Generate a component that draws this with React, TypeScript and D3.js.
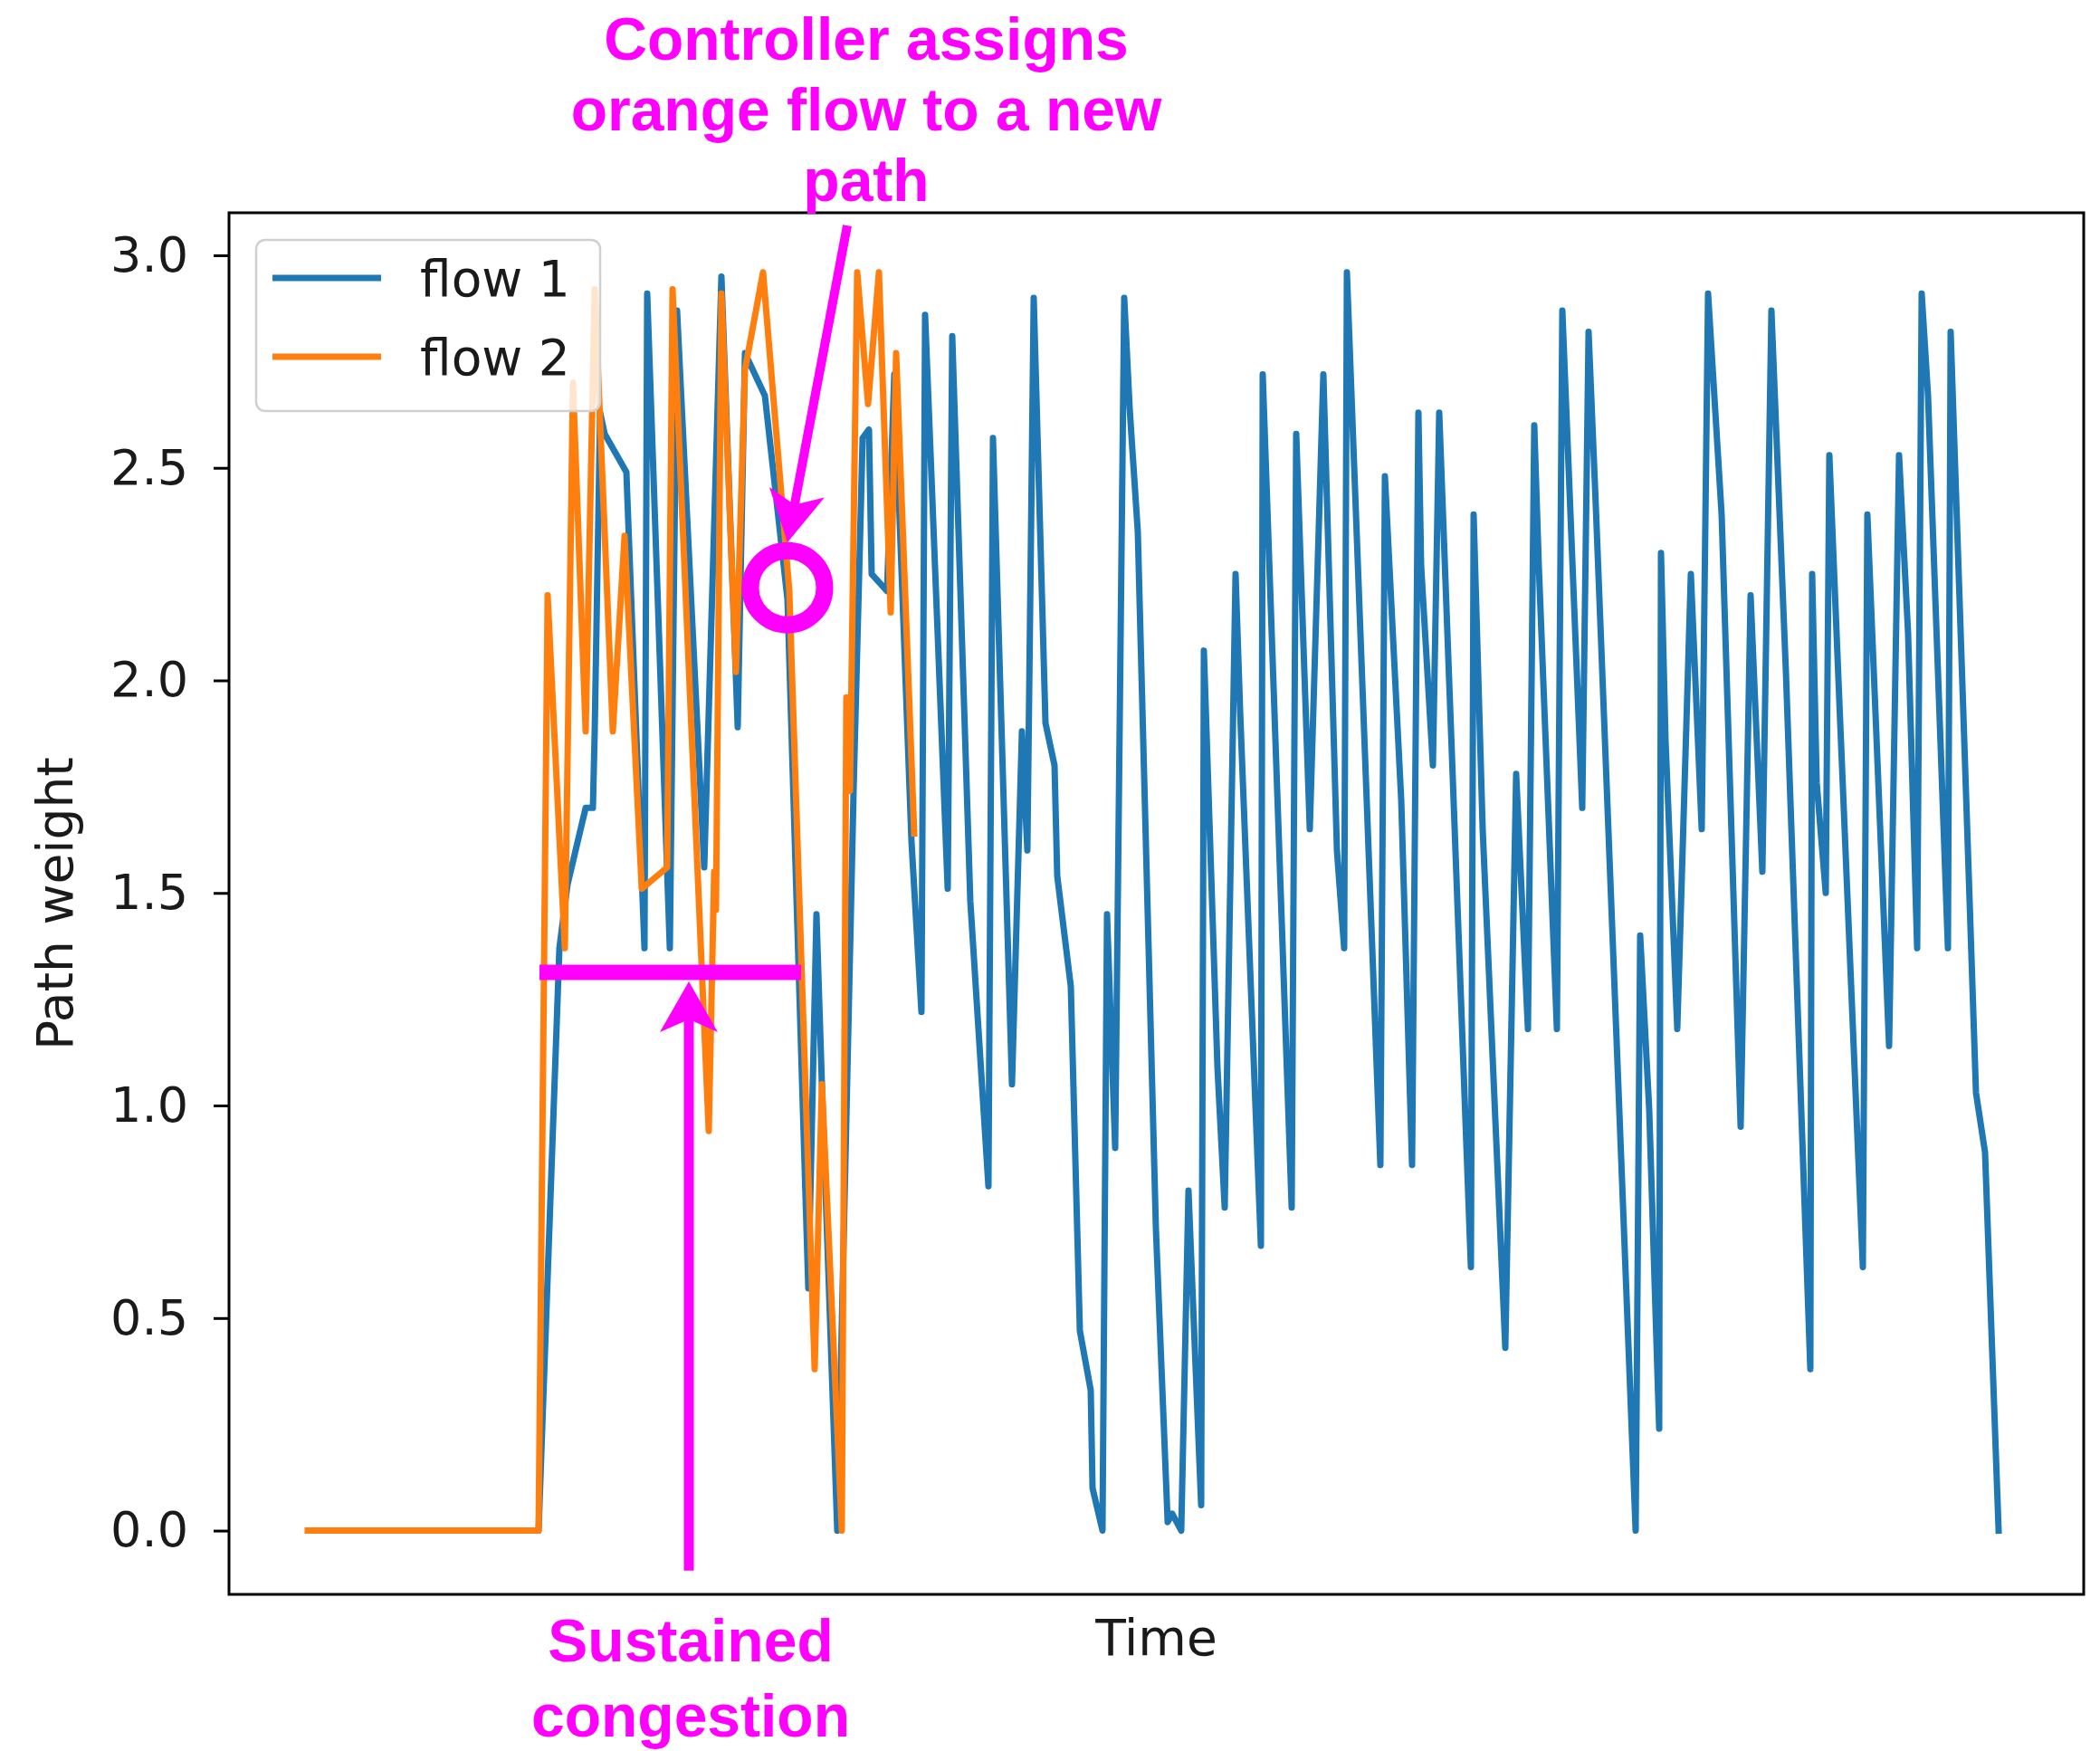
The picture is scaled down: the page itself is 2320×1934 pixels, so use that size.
import * as d3 from 'd3';
import React, { useEffect, useRef } from 'react';

// flow 1 (blue) - time and path weight
const flow1Time = [
  4.3, 25.5, 27.8, 28.7, 30.7, 31.5, 31.7, 32.3, 32.8, 35.2, 37.2, 37.5, 40.0, 40.8, 43.8, 45.7,
  47.5, 48.3, 50.5, 53.0, 55.3, 56.2, 56.8, 58.5, 60.3, 61.3, 62.0, 62.3, 64.0, 64.8, 66.7, 67.8,
  68.2, 70.7, 71.2, 73.2, 75.2, 75.7, 77.8, 78.9, 79.5, 80.2, 81.5, 82.5, 82.8, 84.3, 85.3, 86.5,
  86.7, 87.8, 88.3, 89.2, 90.2, 90.8, 91.7, 93.7, 95.0, 95.5, 96.5, 97.3, 98.7, 99.0, 100.5, 101.3,
  102.5, 103.0, 105.3, 105.5, 108.7, 109.2, 110.7, 112.2, 113.7, 114.5, 114.8, 118.5, 119.0, 120.8,
  122.0, 122.7, 123.0, 124.3, 125.0, 128.5, 128.8, 129.8, 132.3, 133.5, 134.8, 135.5, 136.0, 138.0,
  138.6, 140.8, 141.5, 142.3, 146.7, 147.2, 148.2, 149.3, 149.5, 150.0, 151.3, 152.8, 154.0, 154.7,
  156.2, 158.3, 159.4, 160.7, 161.7, 163.3, 166.0, 166.2, 166.7, 167.7, 168.1, 169.3, 171.8, 172.3,
  174.7, 175.8, 176.8, 177.8, 178.3, 179.0, 181.2, 181.5, 184.3, 185.3, 186.8
];
const flow1Weight = [
  0, 0, 1.37, 1.52, 1.70, 1.70, 1.88, 2.63, 2.58, 2.49, 1.37, 2.91, 1.37, 2.87, 1.56, 2.95,
  1.89, 2.77, 2.67, 2.19, 0.57, 1.45, 1.05, 0.0, 1.74, 2.57, 2.59, 2.25, 2.21, 2.72, 1.62, 1.22,
  2.86, 1.51, 2.81, 1.48, 0.81, 2.57, 1.05, 1.88, 1.60, 2.90, 1.90, 1.80, 1.54, 1.28, 0.47, 0.33,
  0.10, 0.0, 1.45, 0.90, 2.90, 2.64, 2.35, 0.71, 0.02, 0.04, 0.0, 0.80, 0.06, 2.07, 1.09, 0.76,
  2.25, 1.93, 0.67, 2.72, 0.76, 2.58, 1.65, 2.72, 1.60, 1.37, 2.96, 0.86, 2.48, 1.72,
  0.86, 2.63, 2.27, 1.80, 2.63, 0.62, 2.39, 1.65, 0.43, 1.78, 1.18, 2.60, 2.27, 1.18,
  2.87, 1.70, 2.82, 2.41, 0.0, 1.40, 0.99, 0.24, 2.30, 1.86, 1.18, 2.25, 1.65, 2.91,
  2.39, 0.95, 2.20, 1.55, 2.87, 2.02, 0.38, 2.25, 1.76, 1.50, 2.53, 1.90, 0.62, 2.39,
  1.14, 2.53, 2.11, 1.37, 2.91, 2.67, 1.37, 2.82, 1.03, 0.89, 0.0
];

// flow 2 (orange)
const flow2Time = [
  0, 25.5, 26.5, 28.4, 29.3, 30.7, 31.7, 33.7, 35.0, 36.9, 39.7, 40.3, 44.3, 44.9, 45.1, 45.7,
  47.3, 48.3, 50.3, 53.2, 56.0, 56.8, 59.0, 59.5, 59.9, 60.7, 61.9, 63.1, 64.4, 65.0, 67.0
];
const flow2Weight = [
  0, 0, 2.20, 1.37, 2.70, 1.88, 2.92, 1.88, 2.34, 1.51, 1.56, 2.92, 0.94, 1.55, 1.46, 2.91,
  2.02, 2.73, 2.96, 2.21, 0.38, 1.05, 0.0, 1.96, 1.74, 2.96, 2.65, 2.96, 2.16, 2.77, 1.64
];

const yTicks = [0, 0.5, 1.0, 1.5, 2.0, 2.5, 3.0];
const seriesNames = ['flow 1', 'flow 2'];
const seriesColors = ['#1f77b4', '#ff7f0e'];

const xDomain = [-8.7, 196.2];
const yDomain = [-0.15, 3.1];

// annotation anchors, in data units
const switchPoint = { t: 53.0, v: 2.218 };
const arrowTop = { t0: 59.6, v0: 3.07, t1: 53.0, v1: 2.325 };
const congestion = { t0: 25.6, t1: 54.5, v: 1.313, arrowT: 42.1, arrowV0: -0.094, arrowV1: 1.292 };
const topNote = ['Controller assigns', 'orange flow to a new', 'path'];
const bottomNote = ['Sustained', 'congestion'];

function App() {
  const ref = useRef(null);

  useEffect(() => {
    const W = 2320, H = 1934;
    const m = { left: 253, right: 2302, top: 235, bottom: 1761 };
    const axisFont = '"DejaVu Sans", sans-serif';
    const noteFont = '"Liberation Sans", Arial, sans-serif';
    const magenta = '#ff00ff';

    let svg = d3.select(ref.current);
    svg.selectAll('*').remove();
    svg.attr('width', W).attr('height', H);

    svg.append('rect').attr('width', W).attr('height', H).attr('fill', 'white');

    const x = d3.scaleLinear().domain(xDomain).range([m.left, m.right]);
    const y = d3.scaleLinear().domain(yDomain).range([m.bottom, m.top]);

    const line = d3.line()
      .x(d => x(d[0]))
      .y(d => y(d[1]));

    const series = [
      d3.zip(flow1Time, flow1Weight),
      d3.zip(flow2Time, flow2Weight)
    ];

    const clipId = 'plot-clip';
    svg.append('clipPath').attr('id', clipId)
      .append('rect')
      .attr('x', m.left).attr('y', m.top)
      .attr('width', m.right - m.left).attr('height', m.bottom - m.top);

    const g = svg.append('g').attr('clip-path', `url(#${clipId})`);
    series.forEach((s, i) => {
      g.append('path')
        .datum(s)
        .attr('d', line)
        .attr('fill', 'none')
        .attr('stroke', seriesColors[i])
        .attr('stroke-width', 7)
        .attr('stroke-linejoin', 'round')
        .attr('stroke-linecap', 'square');
    });

    // y axis
    const yAxis = d3.axisLeft(y)
      .tickValues(yTicks)
      .tickSize(17)
      .tickPadding(28)
      .tickFormat(d3.format('.1f'));
    const ya = svg.append('g').attr('transform', `translate(${m.left},0)`).call(yAxis);
    ya.select('.domain').remove();
    ya.selectAll('.tick line').attr('stroke', '#000').attr('stroke-width', 3);
    ya.selectAll('.tick text')
      .attr('font-family', axisFont)
      .attr('font-size', 54)
      .attr('fill', '#1a1a1a');

    // frame
    svg.append('rect')
      .attr('x', m.left).attr('y', m.top)
      .attr('width', m.right - m.left).attr('height', m.bottom - m.top)
      .attr('fill', 'none').attr('stroke', '#000').attr('stroke-width', 3);

    // axis labels
    svg.append('text')
      .attr('x', (m.left + m.right) / 2).attr('y', 1828)
      .attr('text-anchor', 'middle')
      .attr('font-family', axisFont).attr('font-size', 55).attr('fill', '#1a1a1a')
      .text('Time');
    svg.append('text')
      .attr('transform', `translate(80,${(m.top + m.bottom) / 2}) rotate(-90)`)
      .attr('text-anchor', 'middle')
      .attr('font-family', axisFont).attr('font-size', 55).attr('fill', '#1a1a1a')
      .text('Path weight');

    // legend
    const lg = svg.append('g');
    lg.append('rect')
      .attr('x', 283).attr('y', 265).attr('width', 380).attr('height', 189)
      .attr('rx', 10)
      .attr('fill', 'white').attr('fill-opacity', 0.8)
      .attr('stroke', '#d0d0d0').attr('stroke-width', 2.5);
    seriesNames.forEach((name, i) => {
      const ly = 307 + i * 87;
      lg.append('line')
        .attr('x1', 301).attr('x2', 421).attr('y1', ly).attr('y2', ly)
        .attr('stroke', seriesColors[i]).attr('stroke-width', 7);
      lg.append('text')
        .attr('x', 464).attr('y', ly + 20)
        .attr('font-family', axisFont).attr('font-size', 55).attr('fill', '#1a1a1a')
        .text(name);
    });

    // annotations
    const ann = svg.append('g');

    const arrowHead = (tx, ty, fx, fy, len, half) => {
      const dx = tx - fx, dy = ty - fy;
      const L = Math.sqrt(dx * dx + dy * dy);
      const ux = dx / L, uy = dy / L;
      const px = -uy, py = ux;
      const bx = tx - ux * len, by = ty - uy * len;
      const nx = tx - ux * len * 0.75, ny = ty - uy * len * 0.75;
      return [
        [tx, ty],
        [bx + px * half, by + py * half],
        [nx, ny],
        [bx - px * half, by - py * half]
      ];
    };

    // controller arrow + circle
    const a0 = [x(arrowTop.t0), y(arrowTop.v0)];
    const a1 = [x(arrowTop.t1), y(arrowTop.v1)];
    const dx = a1[0] - a0[0], dy = a1[1] - a0[1];
    const dl = Math.sqrt(dx * dx + dy * dy);
    ann.append('line')
      .attr('x1', a0[0]).attr('y1', a0[1])
      .attr('x2', a1[0] - dx / dl * 40).attr('y2', a1[1] - dy / dl * 40)
      .attr('stroke', magenta).attr('stroke-width', 10);
    ann.append('polygon')
      .attr('points', arrowHead(a1[0], a1[1], a0[0], a0[1], 56, 31).map(p => p.join(',')).join(' '))
      .attr('fill', magenta);
    ann.append('circle')
      .attr('cx', x(switchPoint.t)).attr('cy', y(switchPoint.v)).attr('r', 41)
      .attr('fill', 'none').attr('stroke', magenta).attr('stroke-width', 19);

    // congestion bar + arrow
    ann.append('line')
      .attr('x1', x(congestion.t0)).attr('x2', x(congestion.t1))
      .attr('y1', y(congestion.v)).attr('y2', y(congestion.v))
      .attr('stroke', magenta).attr('stroke-width', 17);
    const c0 = [x(congestion.arrowT), y(congestion.arrowV0)];
    const c1 = [x(congestion.arrowT), y(congestion.arrowV1)];
    ann.append('line')
      .attr('x1', c0[0]).attr('y1', c0[1])
      .attr('x2', c1[0]).attr('y2', c1[1] + 40)
      .attr('stroke', magenta).attr('stroke-width', 11);
    ann.append('polygon')
      .attr('points', arrowHead(c1[0], c1[1], c0[0], c0[1], 56, 32).map(p => p.join(',')).join(' '))
      .attr('fill', magenta);

    topNote.forEach((s, i) => {
      ann.append('text')
        .attr('x', 957).attr('y', 66 + i * 78)
        .attr('text-anchor', 'middle')
        .attr('font-family', noteFont).attr('font-weight', 'bold')
        .attr('font-size', 66).attr('fill', magenta)
        .text(s);
    });
    bottomNote.forEach((s, i) => {
      ann.append('text')
        .attr('x', 763).attr('y', 1835 + i * 83)
        .attr('text-anchor', 'middle')
        .attr('font-family', noteFont).attr('font-weight', 'bold')
        .attr('font-size', 66).attr('fill', magenta)
        .text(s);
    });
  }, []);

  return (
    <svg ref={ref} style={{ position: 'absolute', left: 0, top: 0 }}></svg>
  );
}

export default App;
